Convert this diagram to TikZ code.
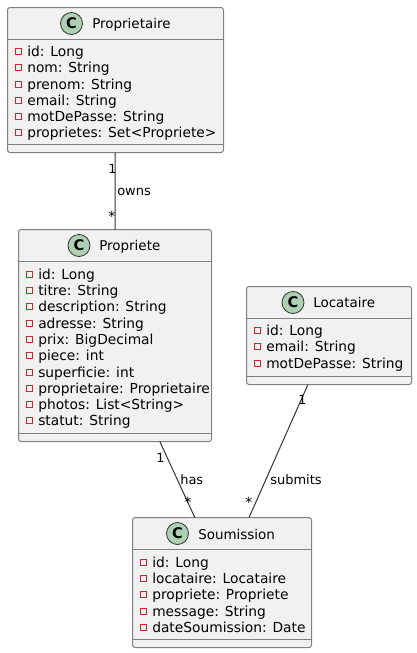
\documentclass[tikz,border=0pt]{standalone}
\usepackage{fontspec}
\setmainfont{DejaVu Sans}
\usetikzlibrary{calc}
\definecolor{boxfill}{HTML}{F1F1F1}
\definecolor{boxline}{HTML}{808080}
\definecolor{spot}{HTML}{ADD1B2}
\definecolor{priv}{HTML}{C82930}
\definecolor{conn}{HTML}{333333}
\tikzset{
  x=0.75pt,y=-0.75pt,
  classbox/.style={draw=boxline,fill=boxfill,line width=0.75pt,rounded corners=1.9pt,inner sep=0pt,outer sep=0pt,anchor=north west},
  divider/.style={draw=boxline,line width=0.75pt},
  spotc/.style={circle,draw=conn,fill=spot,line width=0.6pt,minimum size=16.5pt,inner sep=0pt},
  spotl/.style={font=\fontsize{11pt}{12pt}\selectfont\bfseries,inner sep=0pt,text=black},
  titletxt/.style={font=\fontsize{10.1pt}{12pt}\selectfont,anchor=base west,inner sep=0pt,text=black},
  fieldtxt/.style={font=\fontsize{10.35pt}{12pt}\selectfont,anchor=base west,inner sep=0pt,text=black},
  privbox/.style={draw=priv,line width=0.8pt,minimum size=4.6pt,inner sep=0pt,fill=none},
  link/.style={draw=conn,line width=0.75pt},
  assoc/.style={font=\fontsize{9.75pt}{11pt}\selectfont,inner sep=0pt,anchor=base west,text=black},
  mult/.style={font=\fontsize{9.5pt}{11pt}\selectfont,inner sep=0pt,anchor=base west,text=black},
  star/.style={font=\fontsize{10.5pt}{11pt}\selectfont,inner sep=0pt,anchor=base west,text=black},
}
\newcommand{\umlbox}[8]{%
  \node[classbox,minimum width={(#4-#2)*0.75pt},minimum height={(#5-#3)*0.75pt}] (#1) at (#2,#3) {};
  \draw[divider] (#1.west |- 0,#6) -- (#1.east |- 0,#6);
  \draw[divider] (#1.west |- 0,#7) -- (#1.east |- 0,#7);
  \node[spotc] (#1spot) at (#8,#3+16) {};
  \node[spotl] (#1c) at (#1spot) {C};
}
\newcommand{\umlfield}[4]{%
  \node[privbox] (#1b) at (#2+3.5,#3-4.5) {};
  \node[fieldtxt] (#1t) at (#2+12,#3) {#4};
}
\begin{document}
\begin{tikzpicture}
\useasboundingbox (0,0) rectangle (417,653);

% Proprietaire
\umlbox{a}{7.5}{7.5}{223.5}{152.5}{39.5}{144.5}{71.5}
\node[titletxt] (at) at (92,28) {Proprietaire};
\umlfield{a1}{15}{56}{id: Long}
\umlfield{a2}{15}{72}{nom: String}
\umlfield{a3}{15}{89}{prenom: String}
\umlfield{a4}{15}{105}{email: String}
\umlfield{a5}{15}{121}{motDePasse: String}
\umlfield{a6}{15}{137}{proprietes: Set<Propriete>}

% Propriete
\umlbox{b}{18.5}{229.5}{211.5}{441.5}{261.5}{433.5}{79}
\node[titletxt] (bt) at (99,250) {Propriete};
\umlfield{b1}{26}{279}{id: Long}
\umlfield{b2}{26}{295}{titre: String}
\umlfield{b3}{26}{311}{description: String}
\umlfield{b4}{26}{328}{adresse: String}
\umlfield{b5}{26}{344}{prix: BigDecimal}
\umlfield{b6}{26}{360}{piece: int}
\umlfield{b7}{26}{377}{superficie: int}
\umlfield{b8}{26}{393}{proprietaire: Proprietaire}
\umlfield{b9}{26}{409}{photos: List<String>}
\umlfield{b10}{26}{425}{statut: String}

% Locataire
\umlbox{c}{246.5}{286.5}{411.5}{384.5}{318.5}{376.5}{293}
\node[titletxt] (ct) at (313,307) {Locataire};
\umlfield{c1}{254}{335}{id: Long}
\umlfield{c2}{254}{351}{email: String}
\umlfield{c3}{254}{368}{motDePasse: String}

% Soumission
\umlbox{d}{132.5}{517.5}{311.5}{647.5}{549.5}{639.5}{177.5}
\node[titletxt] (dt) at (198,539) {Soumission};
\umlfield{d1}{140}{567}{id: Long}
\umlfield{d2}{140}{583}{locataire: Locataire}
\umlfield{d3}{140}{599}{propriete: Propriete}
\umlfield{d4}{140}{616}{message: String}
\umlfield{d5}{140}{632}{dateSoumission: Date}

% Connectors
\draw[link] ([xshift=-0.2pt]a.south) -- ([xshift=0.15pt]b.north);
\draw[link] ([xshift=33.6pt]b.south) -- ([xshift=-20.4pt]d.north);
\draw[link] ([xshift=-15.8pt]c.south) -- ([xshift=20.3pt]d.north);

% Labels
\node[assoc] (l1) at (117,195) {owns};
\node[mult] (m1a) at (108,173) {1};
\node[star] (m1b) at (108,221) {*};
\node[assoc] (l2) at (180,484) {has};
\node[mult] (m2a) at (156,462) {1};
\node[star] (m2b) at (184,507) {*};
\node[assoc] (l3) at (270,484) {submits};
\node[mult] (m3a) at (298,404) {1};
\node[star] (m3b) at (245,507) {*};
\end{tikzpicture}
\end{document}
